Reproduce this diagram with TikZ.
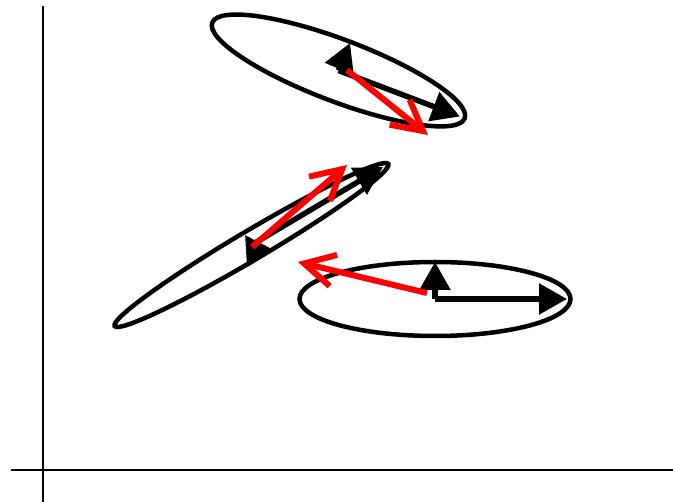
\documentclass[tikz,border=0pt]{standalone}
\usepackage{xcolor}
\usepackage{tikz}
\usetikzlibrary{positioning, arrows.meta, calc}
\definecolor{vecred}{HTML}{FF0000}
\tikzset{
  axisline/.style={line width=2.5pt, black},
  ellipseline/.style={line width=4.5pt, black},
  eigvec/.style={line width=5.5pt, black, -{Triangle[length=28pt, width=30pt]}},
  movevec/.style={line width=6pt, vecred, -{Straight Barb[length=30pt, width=32pt]}}
}

\begin{document}
\begin{tikzpicture}[x=1pt, y=-1pt]
    \useasboundingbox (0,0) rectangle (673,502);
    % axes
    \coordinate (ytop) at (43,6);
    \coordinate (ybot) at (43,502);
    \coordinate (xleft) at (11,470);
    \coordinate (xright) at (673,470);
    \draw[axisline] (ybot) -- (ytop);
    \draw[axisline] (xleft) -- (xright);

    % top ellipse
    \coordinate (top) at (338.5,70.5);
    \coordinate (toplong) at (460,116.5);
    \coordinate (topshort) at (350,43);
    \coordinate (topredstart) at (347,70);
    \coordinate (topred) at (428,135);
    \draw[ellipseline, rotate around={-20.75:(top)}] (top) ellipse (135 and 31);
    \draw[eigvec] (top) -- (toplong);
    \draw[eigvec] (top) -- (topshort);

    % middle ellipse
    \coordinate (mid) at (251.5,245);
    \coordinate (midlong) at (383,167);
    \coordinate (midshort) at (245,235);
    \coordinate (midredstart) at (252,247);
    \coordinate (midred) at (347,165);
    \draw[ellipseline, rotate around={30.63:(mid)}] (mid) ellipse (159 and 14.5);
    \draw[eigvec] (mid) -- (midlong);
    \draw[eigvec] (mid) -- (midshort);

    % bottom ellipse
    \coordinate (bot) at (435,299);
    \coordinate (botlong) at (567,299);
    \coordinate (botshort) at (435,262);
    \coordinate (botredstart) at (427,293);
    \coordinate (botred) at (298,262);
    \draw[ellipseline] (bot) ellipse (135.5 and 37);
    \draw[eigvec] (bot) -- (botlong);
    \draw[eigvec] (bot) -- (botshort);

    % red vectors on top
    \draw[movevec] (topredstart) -- (topred);
    \draw[movevec] (midredstart) -- (midred);
    \draw[movevec] (botredstart) -- (botred);
\end{tikzpicture}
\end{document}
